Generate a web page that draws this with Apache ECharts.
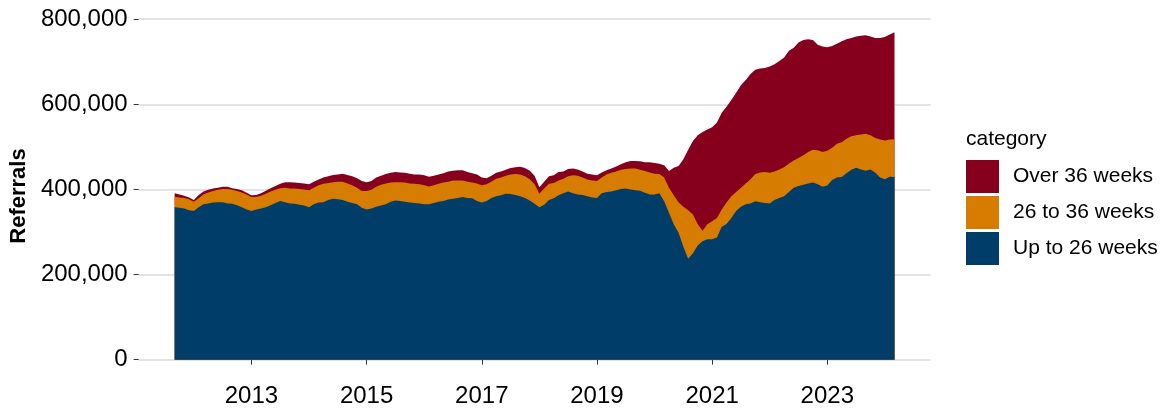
<!DOCTYPE html>
<html>
<head>
<meta charset="utf-8">
<script src="https://cdn.jsdelivr.net/npm/echarts@6/dist/echarts.min.js"></script>
<style>
  html, body { margin: 0; padding: 0; background: #ffffff; }
  #chart { width: 1172px; height: 408px; }
</style>
</head>
<body>
<div id="chart"></div>
<script>
// Monthly referrals waiting, by time waited (thousands), September 2011 onwards
const startYear = 2011;
const startMonth = 9;

const categories = ['Over 36 weeks', '26 to 36 weeks', 'Up to 26 weeks'];

const upTo26 = [
  358, 357, 355, 351, 349, 358, 365, 367, 369, 370,
  370, 367, 366, 363, 358, 353, 349, 353, 355, 358,
  363, 368, 373, 370, 367, 366, 364, 362, 358, 365,
  369, 370, 375, 378, 377, 375, 371, 368, 365, 357,
  353, 355, 359, 362, 365, 371, 374, 373, 371, 369,
  368, 367, 365, 365, 368, 371, 373, 376, 378, 380,
  382, 380, 379, 373, 369, 373, 380, 384, 386, 390,
  389, 387, 384, 380, 374, 366, 358, 364, 375, 379,
  386, 391, 395, 391, 388, 387, 384, 381, 380, 391,
  394, 395, 398, 401, 402, 400, 398, 397, 392, 388,
  388, 391, 372, 345, 318, 298, 265, 237, 250, 268,
  278, 283, 283, 287, 312, 319, 333, 349, 359, 365,
  367, 372, 370, 368, 367, 375, 380, 384, 394, 404,
  408, 411, 414, 416, 412, 406, 409, 422, 428, 429,
  438, 446, 451, 447, 444, 447, 439, 428, 424, 430, 429
];

const wk26to36 = [
  25, 24, 25, 26, 22, 21, 23, 26, 27, 29,
  31, 34, 33, 33, 35, 35, 33, 29, 30, 32,
  32, 31, 30, 34, 35, 36, 37, 38, 40, 39,
  41, 43, 40, 39, 41, 43, 43, 42, 39, 39,
  43, 44, 47, 49, 49, 45, 43, 44, 45, 45,
  45, 45, 45, 42, 42, 42, 43, 42, 43, 41,
  39, 38, 37, 41, 41, 39, 38, 41, 42, 42,
  46, 49, 51, 51, 50, 46, 32, 38, 38, 36,
  35, 34, 36, 42, 44, 41, 39, 40, 40, 37,
  41, 44, 44, 45, 46, 49, 51, 49, 51, 52,
  49, 45, 56, 59, 68, 72, 94, 114, 91, 50,
  25, 35, 42, 46, 41, 50, 51, 45, 45, 49,
  57, 64, 70, 73, 72, 67, 67, 68, 67, 64,
  66, 69, 74, 77, 80, 82, 82, 76, 79, 82,
  81, 79, 76, 82, 87, 80, 82, 89, 91, 87, 89
];

const over36 = [
  8, 7, 5, 4, 4, 8, 7, 6, 6, 5,
  5, 5, 4, 5, 5, 4, 4, 5, 6, 7,
  8, 9, 10, 13, 15, 14, 14, 14, 14, 14,
  13, 15, 16, 17, 17, 19, 20, 21, 22, 24,
  21, 21, 22, 21, 22, 23, 24, 23, 23, 23,
  22, 23, 23, 23, 22, 22, 22, 24, 23, 24,
  24, 23, 22, 21, 18, 14, 14, 14, 14, 14,
  15, 16, 18, 19, 20, 20, 15, 16, 18, 18,
  20, 17, 17, 16, 15, 14, 14, 14, 13, 12,
  10, 10, 12, 13, 16, 18, 18, 20, 21, 24,
  25, 24, 29, 39, 65, 85, 112, 142, 173, 209,
  232, 223, 221, 224, 227, 225, 226, 233, 241, 243,
  247, 245, 244, 244, 250, 252, 255, 258, 265, 265,
  271, 271, 265, 258, 248, 248, 243, 239, 235, 237,
  234, 231, 232, 232, 231, 232, 235, 239, 243, 247, 251
];

const yTicks = [0, 200000, 400000, 600000, 800000];
const xTicks = [2013, 2015, 2017, 2019, 2021, 2023];

const colors = {
  'Over 36 weeks': '#86001D',
  '26 to 36 weeks': '#D67C00',
  'Up to 26 weeks': '#003D69'
};

// Decimal-year position of each monthly observation
const monthX = upTo26.map((_, i) => startYear + (startMonth - 1 + i) / 12);

// Cumulative tops of each band (bands stacked bottom-up: up to 26, 26-36, over 36)
const topUpTo26 = upTo26.map(v => v * 1000);
const top26to36 = upTo26.map((v, i) => (v + wk26to36[i]) * 1000);
const topOver36 = upTo26.map((v, i) => (v + wk26to36[i] + over36[i]) * 1000);
const bandTops = {
  'Over 36 weeks': topOver36,
  '26 to 36 weeks': top26to36,
  'Up to 26 weeks': topUpTo26
};

const maxTotal = Math.max(...topOver36);
const xSpan = monthX[monthX.length - 1] - monthX[0];

const fontFamily = 'Liberation Sans, Arial, sans-serif';

const chart = echarts.init(document.getElementById('chart'), null, { renderer: 'canvas' });

chart.setOption({
  animation: false,
  backgroundColor: '#ffffff',
  grid: { left: 137.5, right: 241.5, top: 16, bottom: 32, containLabel: false },
  xAxis: {
    type: 'value',
    min: monthX[0] - 0.05 * xSpan,
    max: monthX[monthX.length - 1] + 0.05 * xSpan,
    axisLine: { show: false },
    axisTick: { show: true, customValues: xTicks, length: 5, lineStyle: { color: '#333333', width: 1 } },
    axisLabel: {
      customValues: xTicks,
      formatter: v => String(v),
      fontSize: 24, color: '#000000', fontFamily: fontFamily, margin: 8
    },
    splitLine: { show: false }
  },
  yAxis: {
    type: 'value',
    min: -0.05 * maxTotal,
    max: 1.05 * maxTotal,
    name: 'Referrals',
    nameLocation: 'middle',
    nameGap: 101,
    nameTextStyle: { fontSize: 22, fontWeight: 'bold', color: '#000000', fontFamily: fontFamily },
    axisLine: { show: false },
    axisTick: { show: true, customValues: yTicks, length: 5, lineStyle: { color: '#333333', width: 1 } },
    axisLabel: {
      customValues: yTicks,
      formatter: v => Number(v).toLocaleString('en-US'),
      fontSize: 24, color: '#000000', fontFamily: fontFamily, margin: 11
    },
    splitLine: { show: true, lineStyle: { color: '#DADADA', width: 1.5 } }
  },
  legend: {
    orient: 'vertical',
    left: 966,
    top: 160,
    padding: 0,
    itemWidth: 33,
    itemHeight: 33,
    itemGap: 3,
    icon: 'rect',
    selectedMode: false,
    data: categories,
    textStyle: { fontSize: 21, color: '#000000', fontFamily: fontFamily, padding: [0, 0, 0, 9] }
  },
  graphic: [{
    type: 'text',
    left: 966,
    top: 129,
    style: { text: 'category', fontSize: 21, fill: '#000000', fontFamily: fontFamily }
  }],
  // Each band is filled down to zero; later bands are painted over earlier ones
  series: categories.map(name => ({
    name: name,
    type: 'line',
    symbol: 'none',
    showSymbol: false,
    silent: true,
    itemStyle: { color: colors[name] },
    lineStyle: { width: 0, color: colors[name] },
    areaStyle: { color: colors[name], opacity: 1 },
    data: bandTops[name].map((v, i) => [monthX[i], v])
  }))
});
</script>
</body>
</html>
